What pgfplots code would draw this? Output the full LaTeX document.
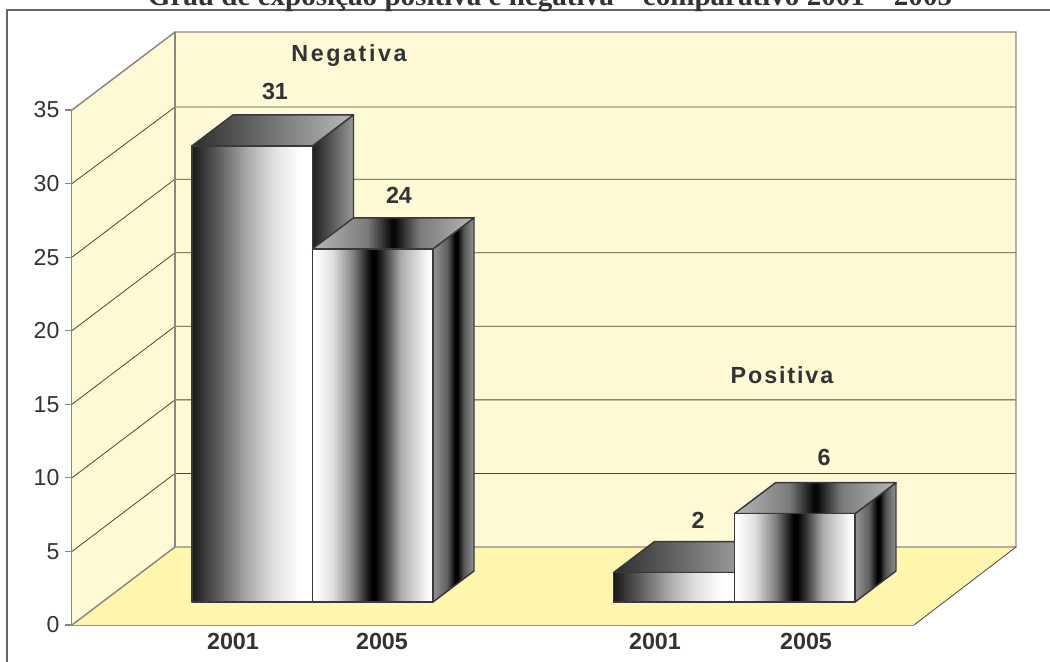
\documentclass[border=0pt]{standalone}
\usepackage{pgfplots}
\pgfplotsset{compat=1.18}
\usepackage{fontspec}
\setmainfont{Liberation Sans}
\newfontfamily\titlefont{Liberation Serif}
\definecolor{wall}{HTML}{FFF9D6}
\definecolor{floorc}{HTML}{FFF6AE}
\definecolor{edgec}{HTML}{8F8580}
\definecolor{gridc}{HTML}{4A4636}
\definecolor{txt}{HTML}{333333}
\definecolor{framec}{HTML}{666666}
\definecolor{barline}{HTML}{3A383C}
% front, top, side shadings: the inner part 25bp..75bp falls on the face
\pgfdeclarehorizontalshading{frontA}{100bp}{color(0bp)=(black!90);color(25bp)=(black!90);color(34bp)=(black!68);color(42.5bp)=(black!47);color(49bp)=(black!31);color(59bp)=(black!12);color(70bp)=(white);color(100bp)=(white)}
\pgfdeclarehorizontalshading{topA}{100bp}{color(0bp)=(black!82);color(25bp)=(black!82);color(75bp)=(black!27);color(100bp)=(black!27)}
\pgfdeclarehorizontalshading{sideA}{100bp}{color(0bp)=(black!88);color(25bp)=(black!88);color(75bp)=(black!40);color(100bp)=(black!40)}
\pgfdeclarehorizontalshading{frontB}{100bp}{color(0bp)=(white);color(26bp)=(white);color(33.5bp)=(black!13);color(42bp)=(black!50);color(49.5bp)=(black);color(51bp)=(black);color(54.5bp)=(black!80);color(61.5bp)=(black!33);color(73bp)=(black!1);color(75bp)=(white);color(100bp)=(white)}
\pgfdeclarehorizontalshading{topB}{100bp}{color(0bp)=(black!28);color(25bp)=(black!28);color(42bp)=(black!52);color(49.5bp)=(black!97);color(50.5bp)=(black!97);color(58bp)=(black!52);color(75bp)=(black!28);color(100bp)=(black!28)}
\pgfdeclarehorizontalshading{sideB}{100bp}{color(0bp)=(black!42);color(25bp)=(black!42);color(42bp)=(black!62);color(52bp)=(black);color(55bp)=(black);color(62bp)=(black!68);color(75bp)=(black!42);color(100bp)=(black!42)}
% x0, x1, value, shading suffix: base of the front face sits 1.563 units above the floor edge
\newcommand{\threeDbar}[4]{%
  \pgfmathsetmacro{\yt}{#3+1.563}%
  \pgfmathsetmacro{\ytb}{\yt+2.107}%
  \pgfmathsetmacro{\xa}{#1+41}%
  \pgfmathsetmacro{\xb}{#2+41}%
  \addplot[draw=barline,line width=1.1pt,line join=round,shading=side#4] coordinates {(#2,1.563)(#2,\yt)(\xb,\ytb)(\xb,3.67)} -- cycle;
  \addplot[draw=barline,line width=1.1pt,line join=round,shading=top#4] coordinates {(#1,\yt)(#2,\yt)(\xb,\ytb)(\xa,\ytb)} -- cycle;
  \addplot[draw=barline,line width=1.1pt,line join=round,shading=front#4] coordinates {(#1,1.563)(#2,1.563)(#2,\yt)(#1,\yt)} -- cycle;
}
\begin{document}
\begin{tikzpicture}[x=.75pt,y=.75pt]
\path[use as bounding box,clip] (-72,-36) rectangle (978,625);
\begin{axis}[
  at={(0,0)},anchor=south west,
  scale only axis,width=631.5pt,height=386.25pt,
  xmin=72,xmax=914,ymin=0,ymax=35,
  clip=false,
  axis x line=bottom,axis y line=left,
  axis line style={-,draw=edgec,line width=1.1pt},
  ytick={0,5,...,35},
  xtick={233,382,655,806},
  xticklabels={2001,2005,2001,2005},
  tick align=outside,
  major tick length=5.25pt,
  y tick style={draw=edgec,line width=.8pt},
  x tick style={draw=none},
  every tick label/.append style={text=txt},
  /pgf/number format/assume math mode=true,
  yticklabel style={font=\fontsize{17.3}{19}\selectfont,inner sep=0pt,xshift=-4pt},
  xticklabel style={font=\fontsize{17.5}{19}\selectfont\bfseries,inner sep=0pt,yshift=-0.8pt},
]
% frame
\addplot[draw=framec,line width=1.2pt] coordinates {(7,-6)(7,41.8)(1070,41.8)};
% title, cut by the page edge as in the source
\node[anchor=base,text=txt,inner sep=0pt,font=\titlefont\bfseries\fontsize{21.8}{24}\selectfont] at (axis cs:550,42.13) {Grau de exposição positiva e negativa – comparativo 2001 – 2005};
% walls and floor
\addplot[draw=none,fill=wall] coordinates {(175,5.3)(1016,5.3)(1016,40.3)(175,40.3)} -- cycle;
\addplot[draw=none,fill=wall] coordinates {(72,0)(175,5.3)(175,40.3)(72,35)} -- cycle;
\addplot[draw=none,fill=floorc] coordinates {(72,0)(914,0)(1016,5.3)(175,5.3)} -- cycle;
% grid lines
\foreach \k/\b in {5/10.3,10/15.3,15/20.3,20/25.3,25/30.3,30/35.2}{
  \edef\temp{\noexpand\addplot[draw=gridc,line width=.6pt] coordinates {(72,\k)(175,\b)(1016,\b)};}
  \temp
}
% wall edges
\addplot[draw=edgec,line width=1.1pt] coordinates {(72,35)(175,40.3)(1016,40.3)(1016,5.3)(175,5.3)(72,0)};
\addplot[draw=edgec,line width=1.5pt] coordinates {(175,5.3)(175,40.3)};
\addplot[draw=gridc,line width=.6pt] coordinates {(914,0)(1016,5.3)};
% bars
\threeDbar{192}{312.5}{31}{A}
\threeDbar{312.5}{433}{24}{B}
\threeDbar{613.5}{734.5}{2}{A}
\threeDbar{734.5}{855}{6}{B}
% labels
\tikzset{lab/.style={text=txt,inner sep=0pt,font=\fontsize{17.5}{19}\selectfont\bfseries}}
\node[lab] at (axis cs:275,36.25) {31};
\node[lab] at (axis cs:399,29.2) {24};
\node[lab] at (axis cs:698,7.1) {2};
\node[lab] at (axis cs:824,11.4) {6};
\node[lab] at (axis cs:349,38.72) {\addfontfeature{LetterSpace=11}Negativa};
\node[lab] at (axis cs:782,17) {\addfontfeature{LetterSpace=8}Positiva};
\end{axis}
\end{tikzpicture}
\end{document}
